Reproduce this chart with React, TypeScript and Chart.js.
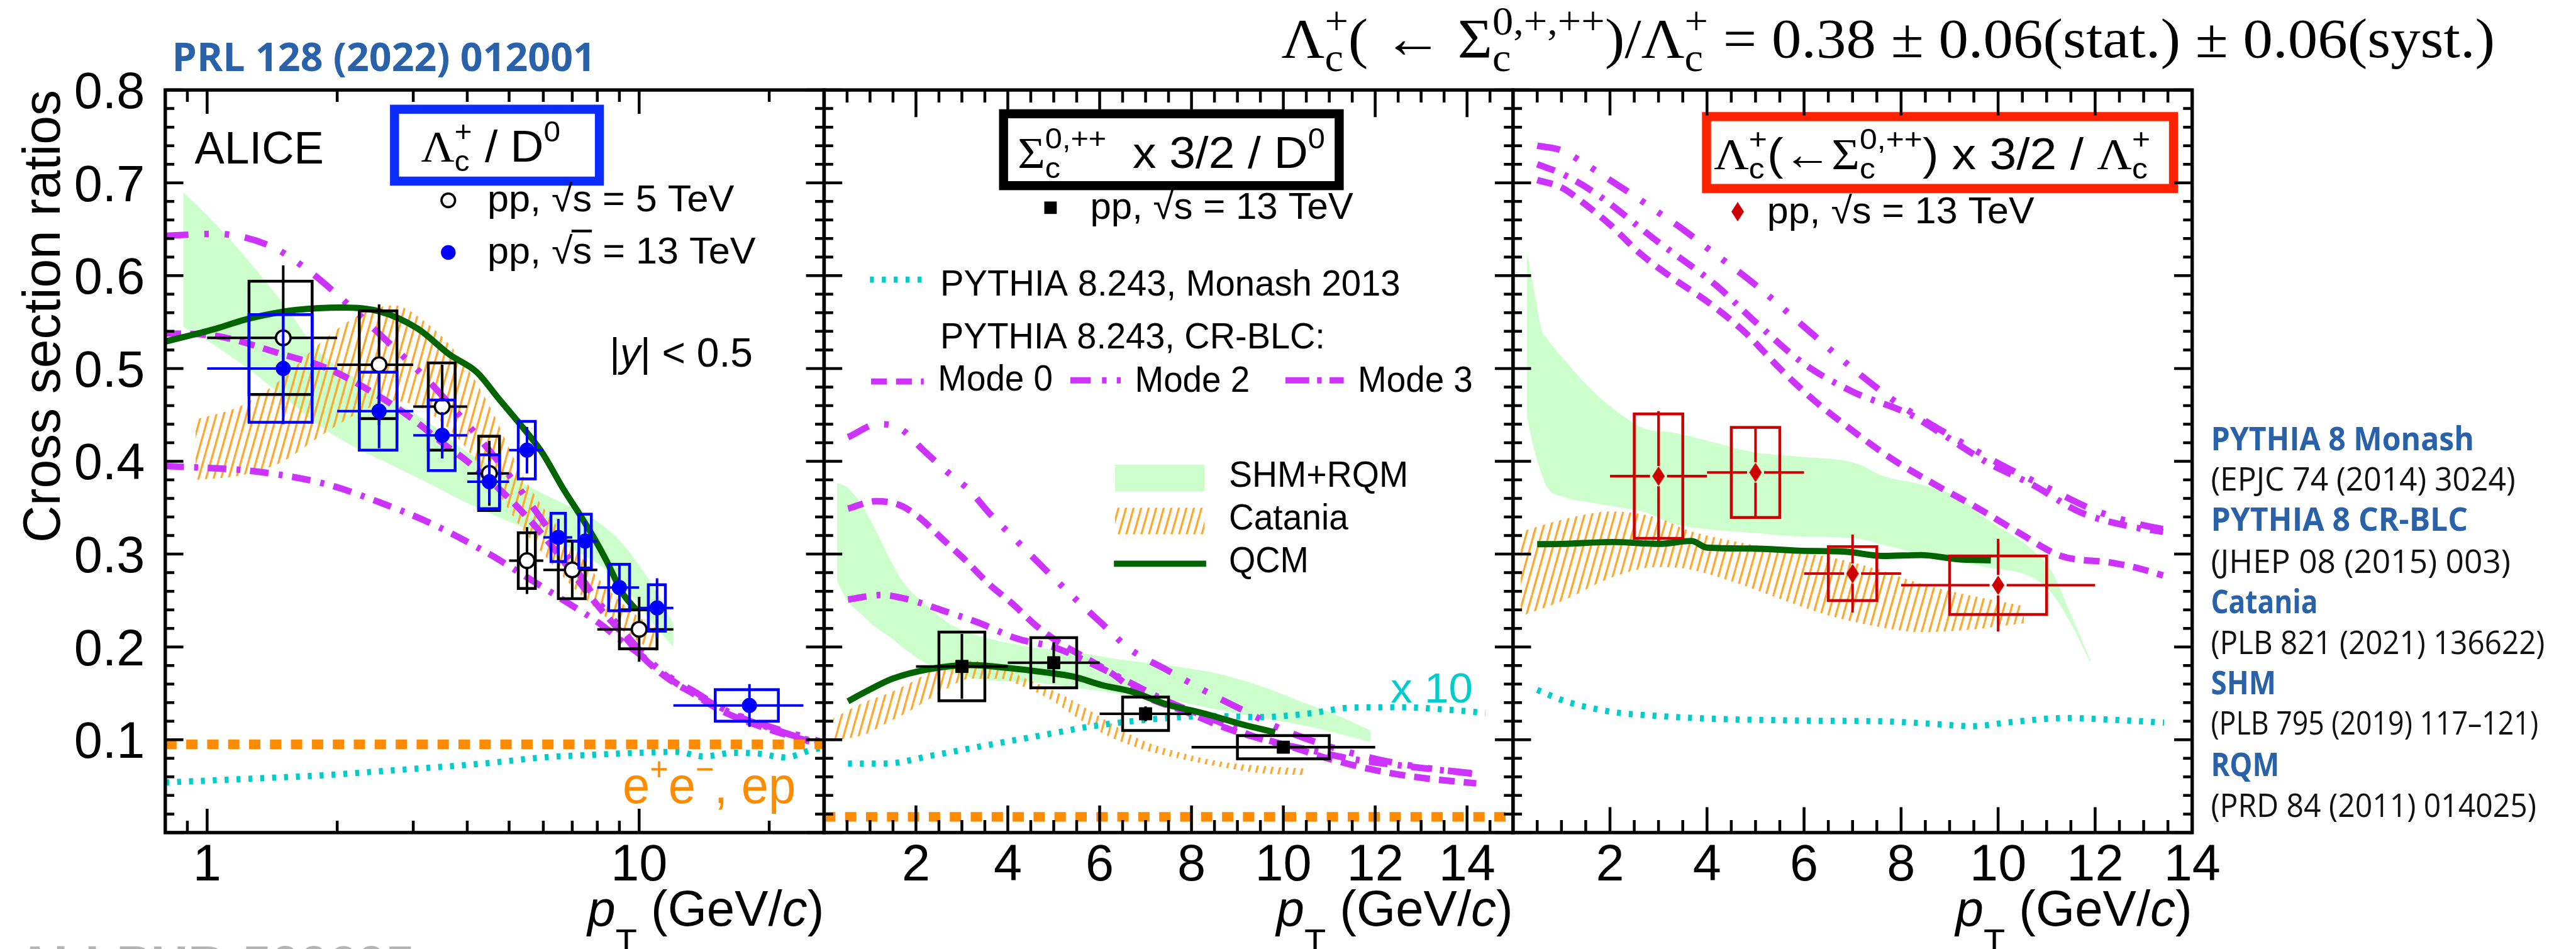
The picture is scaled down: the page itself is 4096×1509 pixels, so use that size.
import React, { useEffect, useRef } from "react";
import { Chart, registerables } from "chart.js";

Chart.register(...registerables);

// Figure is laid out on a 4548 x 1675 design grid and drawn at 0.9 of it.
const S = 0.9;
const W = 4096;
const H = 1509;
const R = (v: number) => v * S;

const FRAME_TOP = 159;
const FRAME_BOTTOM = 1471;
const PANEL_X = [292, 1456, 2673, 3873];

const SANS = '"Liberation Sans", Arial, Helvetica, sans-serif';
const SERIF = '"Liberation Serif", "Times New Roman", serif';
const REF_FONT = '"Open Sans", "Liberation Sans", sans-serif';

const C_MAGENTA = "#cc33ff";
const C_CYAN = "#00cccc";
const C_QCM = "#006400";
const C_SHM = "#ccffcc";
const C_EE = "#ff8c00";
const C_BLUE = "#0000ff";
const C_RED = "#cc0000";
const C_REFBLUE = "#2a62aa";

// ---------- axes ----------
const Y_MIN = 0;
const Y_MAX = 0.8;
const Y_TICK_VALUES = [0.1, 0.2, 0.3, 0.4, 0.5, 0.6, 0.7, 0.8];
const Y_TICK_LABELS = ["0.1", "0.2", "0.3", "0.4", "0.5", "0.6", "0.7", "0.8"];

const P1_X_MIN = 0.8;
const P1_X_MAX = 26.8;
const P1_TICK_VALUES = [1, 10];
const P1_TICK_LABELS = ["1", "10"];
const P1_MINOR_TICKS = [0.9, 2, 3, 4, 5, 6, 7, 8, 9, 20];

const P2_X_MAX = 15;
const P3_X_MAX = 14;
const LIN_TICK_VALUES = [2, 4, 6, 8, 10, 12, 14];
const LIN_TICK_LABELS = ["2", "4", "6", "8", "10", "12", "14"];

// ---------- panel 1: Λc+/D0 ----------
const lc5Lo = [1, 2, 3, 4, 5, 6, 8];
const lc5Hi = [2, 3, 4, 5, 6, 8, 12];
const lc5Val = [0.533, 0.504, 0.459, 0.387, 0.293, 0.283, 0.219];
const lc5Stat = [0.078, 0.065, 0.045, 0.035, 0.036, 0.03, 0.035];
const lc5Syst = [0.061, 0.058, 0.047, 0.04, 0.03, 0.031, 0.021];

const lc13Lo = [1, 2, 3, 4, 5, 6, 7, 8, 10, 12];
const lc13Hi = [2, 3, 4, 5, 6, 7, 8, 10, 12, 24];
const lc13Val = [0.5, 0.454, 0.428, 0.378, 0.412, 0.318, 0.314, 0.264, 0.242, 0.137];
const lc13Stat = [0.06, 0.04, 0.025, 0.023, 0.025, 0.02, 0.022, 0.025, 0.032, 0.023];
const lc13Syst = [0.058, 0.042, 0.038, 0.029, 0.031, 0.026, 0.029, 0.025, 0.025, 0.017];

const shm1Pt = [0.88, 1.0, 1.2, 1.5, 1.8, 2.2, 2.7, 3.3, 4.0, 5.0, 6.0, 7.0, 8.0, 9.0, 10.0, 11.0, 12.0];
const shm1Hi = [0.69, 0.665, 0.625, 0.57, 0.52, 0.49, 0.465, 0.44, 0.41, 0.385, 0.365, 0.35, 0.335, 0.315, 0.288, 0.258, 0.225];
const shm1Lo = [0.545, 0.53, 0.505, 0.47, 0.44, 0.415, 0.395, 0.375, 0.355, 0.335, 0.32, 0.305, 0.29, 0.27, 0.245, 0.22, 0.2];

const cat1Pt = [0.94, 1.2, 1.5, 1.8, 2.2, 2.7, 3.2, 3.8, 4.5, 5.3, 6.0, 7.0, 8.0, 9.0, 10.0, 11.0];
const cat1Hi = [0.445, 0.46, 0.49, 0.525, 0.555, 0.568, 0.55, 0.515, 0.46, 0.39, 0.35, 0.31, 0.275, 0.25, 0.232, 0.22];
const cat1Lo = [0.38, 0.385, 0.4, 0.425, 0.45, 0.465, 0.455, 0.425, 0.38, 0.33, 0.3, 0.265, 0.24, 0.22, 0.205, 0.195];

const qcm1Pt = [0.8, 1.05, 1.22, 1.41, 1.6, 2.05, 2.5, 3.07, 3.64, 4.21, 4.72, 5.3, 5.95, 6.68, 7.3, 7.94, 8.4, 9.15, 9.85];
const qcm1Val = [0.529, 0.543, 0.5525, 0.559, 0.563, 0.5656, 0.5616, 0.543, 0.515, 0.496, 0.468, 0.44, 0.41, 0.37, 0.342, 0.314, 0.293, 0.258, 0.24];

const monash1Pt = [0.8, 1.0, 1.4, 1.9, 2.5, 3.3, 4.5, 6.0, 8.0, 10.0, 12.2, 14.1, 16.5, 18.9, 21.8, 25.0, 26.8];
const monash1Val = [0.054, 0.056, 0.059, 0.062, 0.066, 0.07, 0.075, 0.081, 0.084, 0.086, 0.087, 0.082, 0.086, 0.085, 0.081, 0.089, 0.092];

const mode2p1Pt = [0.8, 1.05, 1.4, 1.7, 2.05, 2.6, 3.2, 4.0, 5.0, 6.0, 7.0, 8.0, 9.0, 10.0, 11.0, 12.0, 13.3, 15.4, 18.9, 25.0, 26.8];
const mode2p1Val = [0.643, 0.645, 0.632, 0.607, 0.575, 0.53, 0.49, 0.44, 0.385, 0.335, 0.29, 0.25, 0.222, 0.197, 0.178, 0.165, 0.153, 0.135, 0.118, 0.101, 0.097];
const mode0p1Pt = [0.8, 1.05, 1.5, 1.9, 2.5, 3.0, 3.5, 4.0, 5.0, 6.0, 7.0, 8.0, 9.0, 10.0, 11.0, 12.0, 13.3, 15.4, 18.9, 25.0, 26.8];
const mode0p1Val = [0.538, 0.535, 0.515, 0.5, 0.47, 0.445, 0.42, 0.4, 0.36, 0.32, 0.28, 0.245, 0.218, 0.193, 0.175, 0.162, 0.15, 0.132, 0.115, 0.098, 0.095];
const mode3p1Pt = [0.8, 1.3, 1.9, 2.5, 3.3, 4.5, 5.5, 6.7, 8.0, 9.2, 10.5, 12.0, 14.0, 17.0, 20.0, 25.0, 26.8];
const mode3p1Val = [0.395, 0.389, 0.375, 0.356, 0.333, 0.3, 0.275, 0.25, 0.227, 0.205, 0.185, 0.163, 0.145, 0.125, 0.113, 0.099, 0.096];

const eeLambdaOverD0 = 0.095;

// ---------- panel 2: Σc x 3/2 / D0 ----------
const sc13Lo = [2, 4, 6, 8];
const sc13Hi = [4, 6, 8, 12];
const sc13Val = [0.179, 0.183, 0.128, 0.092];
const sc13Stat = [0.035, 0.022, 0.008, 0.006];
const sc13Syst = [0.037, 0.027, 0.018, 0.0125];

const shm2Pt = [0.28, 0.5, 0.75, 1.1, 1.45, 1.75, 2.2, 2.8, 3.6, 4.5, 5.5, 6.5, 7.5, 8.5, 9.5, 10.5, 11.1, 11.9];
const shm2Hi = [0.377, 0.372, 0.358, 0.328, 0.293, 0.268, 0.246, 0.223, 0.209, 0.2, 0.194, 0.186, 0.18, 0.172, 0.158, 0.139, 0.128, 0.11];
const shm2Lo = [0.271, 0.25, 0.238, 0.222, 0.21, 0.198, 0.183, 0.172, 0.164, 0.162, 0.156, 0.149, 0.143, 0.133, 0.124, 0.115, 0.108, 0.0975];

const cat2Pt = [0.2, 0.9, 1.4, 1.9, 2.5, 3.2, 3.8, 4.3, 4.9, 5.5, 6.1, 6.9, 7.7, 8.7, 9.5, 10.5];
const cat2Hi = [0.123, 0.141, 0.15, 0.162, 0.178, 0.185, 0.18, 0.168, 0.155, 0.14, 0.122, 0.1, 0.087, 0.076, 0.072, 0.069];
const cat2Lo = [0.099, 0.106, 0.119, 0.132, 0.15, 0.166, 0.166, 0.158, 0.144, 0.124, 0.106, 0.09, 0.08, 0.07, 0.064, 0.062];

const qcm2Pt = [0.52, 0.93, 1.49, 2.26, 3.18, 4.0, 4.82, 5.43, 6.04, 6.66, 7.47, 8.3, 9.1, 9.82];
const qcm2Val = [0.1415, 0.1524, 0.1658, 0.1759, 0.1805, 0.1774, 0.1726, 0.168, 0.159, 0.1524, 0.138, 0.128, 0.1166, 0.108];

const MONASH_SIGMA_SCALE = 10;
const monash2Pt = [0.52, 1.34, 2.36, 3.59, 4.82, 5.84, 7.47, 8.5, 9.5, 10.5, 11.56, 12.6, 13.6, 14.4];
const monash2Val = [0.00744, 0.00744, 0.00831, 0.00945, 0.01055, 0.01146, 0.01234, 0.01256, 0.01244, 0.0128, 0.01348, 0.0135, 0.01323, 0.0129];

const mode2p2Pt = [0.52, 1.18, 1.65, 2.16, 2.67, 3.18, 3.59, 4.1, 4.71, 5.43, 6.04, 6.66, 7.47, 8.3, 9.1, 10.03, 11.05, 12.07, 13.1, 14.3];
const mode2p2Val = [0.426, 0.44, 0.4355, 0.412, 0.389, 0.368, 0.3445, 0.319, 0.2886, 0.2537, 0.2256, 0.1976, 0.175, 0.1524, 0.1323, 0.11, 0.092, 0.0787, 0.0697, 0.063];
const mode0p2Pt = [0.52, 1.13, 1.65, 2.06, 2.57, 3.08, 3.59, 4.1, 4.61, 5.12, 5.63, 6.25, 6.86, 7.88, 8.9, 10.03, 11.05, 12.07, 13.1, 14.2];
const mode0p2Val = [0.349, 0.357, 0.3527, 0.34, 0.3166, 0.2933, 0.2677, 0.2466, 0.2232, 0.2046, 0.19, 0.172, 0.15, 0.13, 0.11, 0.0945, 0.0787, 0.0665, 0.0585, 0.053];
const mode3p2Pt = [0.52, 1.24, 1.85, 2.56, 3.39, 4.2, 5.02, 5.84, 6.66, 7.47, 8.5, 9.5, 10.5, 11.56, 12.6, 14.2];
const mode3p2Val = [0.251, 0.256, 0.251, 0.2396, 0.2256, 0.209, 0.1994, 0.1817, 0.1616, 0.1415, 0.1213, 0.101, 0.0898, 0.0787, 0.072, 0.063];

const eeSigmaOverD0 = 0.017;

// ---------- panel 3: Λc(←Σc) x 3/2 / Λc ----------
const lcs13Lo = [2, 4, 6, 8];
const lcs13Hi = [4, 6, 8, 12];
const lcs13Val = [0.384, 0.388, 0.279, 0.2665];
const lcs13Stat = [0.07, 0.048, 0.042, 0.05];
const lcs13Syst = [0.067, 0.0485, 0.029, 0.0315];

const shm3Pt = [0.29, 0.45, 0.6, 0.69, 1.08, 1.66, 2.24, 2.72, 3.3, 4.17, 4.94, 5.9, 7.06, 7.64, 8.41, 9.18, 9.76, 10.7, 11.1, 11.5, 11.9];
const shm3Hi = [0.626, 0.58, 0.54, 0.533, 0.508, 0.475, 0.45, 0.435, 0.431, 0.42, 0.41, 0.405, 0.398, 0.384, 0.375, 0.361, 0.338, 0.305, 0.282, 0.235, 0.186];
const shm3Lo = [0.447, 0.41, 0.385, 0.373, 0.361, 0.355, 0.35, 0.345, 0.333, 0.326, 0.323, 0.319, 0.317, 0.31, 0.3, 0.292, 0.286, 0.275, 0.258, 0.225, 0.183];

const cat3Pt = [0.16, 1.08, 2.04, 3.0, 3.59, 4.55, 5.6, 6.5, 7.5, 8.41, 9.38, 10.53];
const cat3Hi = [0.324, 0.338, 0.346, 0.339, 0.326, 0.314, 0.304, 0.297, 0.284, 0.268, 0.256, 0.244];
const cat3Lo = [0.233, 0.251, 0.275, 0.286, 0.284, 0.27, 0.25, 0.234, 0.222, 0.216, 0.2185, 0.2256];

const qcm3Pt = [0.5, 1.0, 2.04, 3.01, 3.68, 4.0, 4.94, 5.9, 6.86, 7.64, 8.41, 9.18, 9.85];
const qcm3Val = [0.3107, 0.311, 0.313, 0.311, 0.3142, 0.307, 0.306, 0.3037, 0.3026, 0.298, 0.299, 0.2945, 0.2933];

const monash3Pt = [0.5, 1.08, 2.04, 3.01, 3.98, 5.9, 7.83, 8.8, 9.47, 10.24, 11.4, 12.46, 13.42];
const monash3Val = [0.1537, 0.1415, 0.13, 0.1256, 0.1229, 0.1207, 0.1195, 0.1166, 0.1146, 0.1189, 0.1234, 0.1213, 0.1185];

const mode2p3Pt = [0.5, 1.0, 1.5, 2.0, 2.5, 3.0, 3.5, 4.0, 5.0, 6.0, 7.0, 8.0, 9.0, 10.0, 11.0, 12.0, 13.0, 13.5];
const mode2p3Val = [0.74, 0.735, 0.72, 0.703, 0.686, 0.668, 0.65, 0.63, 0.59, 0.545, 0.5, 0.46, 0.428, 0.398, 0.372, 0.347, 0.331, 0.326];
const mode3p3Pt = [0.5, 1.0, 1.75, 2.9, 4.2, 5.0, 6.0, 7.0, 8.2, 8.8, 9.8, 10.7, 11.7, 12.7, 13.4];
const mode3p3Val = [0.72, 0.71, 0.687, 0.64, 0.589, 0.55, 0.505, 0.475, 0.45, 0.431, 0.398, 0.375, 0.345, 0.33, 0.324];
const mode0p3Pt = [0.5, 1.0, 1.46, 2.0, 2.62, 3.3, 4.06, 4.8, 5.5, 6.2, 7.0, 7.8, 8.7, 9.6, 10.4, 11.3, 12.3, 12.8, 13.4];
const mode0p3Val = [0.703, 0.695, 0.678, 0.655, 0.624, 0.597, 0.57, 0.538, 0.5, 0.466, 0.433, 0.403, 0.375, 0.349, 0.324, 0.298, 0.291, 0.286, 0.277];

// ---------- references ----------
const REF_TITLES = ["PYTHIA 8 Monash", "PYTHIA 8 CR-BLC", "Catania", "SHM", "RQM"];
const REF_CITES = ["(EPJC 74 (2014) 3024)", "(JHEP 08 (2015) 003)", "(PLB 821 (2021) 136622)", "(PLB 795 (2019) 117–121)", "(PRD 84 (2011) 014025)"];

// ---------- line styles (design px) ----------
const DASH_MODE0 = [28, 16];
const DASH_MODE2 = [41, 28, 8, 28, 8, 28];
const DASH_MODE3 = [33, 18, 7, 17];
const DASH_MONASH = [7, 14];
const DASH_EE = [20, 17];
const MODE_WIDTH = 11.5;

// ---------- helpers ----------
type Seg = { t?: string; sup?: string; sub?: string; k?: number; dy?: number; it?: boolean; fam?: string; bar?: boolean };

function fontStr(px: number, fam: string, it?: boolean, bold?: boolean) {
  return `${it ? "italic " : ""}${bold ? "bold " : ""}${px}px ${fam}`;
}

function rich(
  ctx: CanvasRenderingContext2D,
  segs: Seg[],
  x: number,
  y: number,
  size: number,
  o: { fam?: string; color?: string; width?: number; align?: string; bold?: boolean; supDy?: number; subDy?: number; sk?: number } = {}
) {
  const fam0 = o.fam || SANS;
  const sk = o.sk ?? 0.65;
  const supDy = o.supDy ?? -0.45;
  const subDy = o.subDy ?? 0.22;
  const laid: any[] = [];
  let cur = 0;
  for (const g of segs) {
    const fam = g.fam || fam0;
    if (g.t === undefined) {
      ctx.font = fontStr(size * sk, fam, false, o.bold);
      const a = g.sup ? ctx.measureText(g.sup).width : 0;
      const b = g.sub ? ctx.measureText(g.sub).width : 0;
      laid.push({ g, fam, x: cur });
      cur += Math.max(a, b);
    } else {
      const px = size * (g.k ?? 1);
      ctx.font = fontStr(px, fam, g.it, o.bold);
      const w = ctx.measureText(g.t).width;
      laid.push({ g, fam, x: cur, w, px });
      cur += w;
    }
  }
  const sx = o.width ? o.width / cur : 1;
  const left = o.align === "right" ? x - cur * sx : o.align === "center" ? x - (cur * sx) / 2 : x;
  ctx.save();
  ctx.translate(left, y);
  ctx.scale(sx, 1);
  ctx.fillStyle = o.color || "#000";
  ctx.strokeStyle = o.color || "#000";
  ctx.textAlign = "left";
  ctx.textBaseline = "alphabetic";
  for (const it of laid) {
    const g = it.g as Seg;
    if (g.t === undefined) {
      ctx.font = fontStr(size * sk, it.fam, false, o.bold);
      if (g.sup) ctx.fillText(g.sup, it.x, supDy * size);
      if (g.sub) ctx.fillText(g.sub, it.x, subDy * size);
    } else {
      ctx.font = fontStr(it.px, it.fam, g.it, o.bold);
      ctx.fillText(g.t, it.x, (g.dy ?? 0) * size);
      if (g.bar) {
        ctx.lineWidth = 0.07 * size;
        ctx.beginPath();
        ctx.moveTo(it.x - 0.03 * size, -0.86 * size);
        ctx.lineTo(it.x + it.w, -0.86 * size);
        ctx.stroke();
      }
    }
  }
  ctx.restore();
}

const xy = (xs: number[], ys: number[], k = 1) => xs.map((x, i) => ({ x, y: ys[i] * k }));
const centers = (lo: number[], hi: number[]) => lo.map((l, i) => (l + hi[i]) / 2);

function makeHatch(canvas: HTMLCanvasElement): CanvasPattern | string {
  const w = 12;
  const h = 43;
  const tile = document.createElement("canvas");
  tile.width = w;
  tile.height = h;
  const g = tile.getContext("2d");
  if (!g) return "rgba(255,165,40,0.5)";
  g.strokeStyle = "rgb(255,168,48)";
  g.lineWidth = 3.3;
  g.beginPath();
  for (const off of [-w, 0, w]) {
    g.moveTo(off, h);
    g.lineTo(off + w, 0);
  }
  g.stroke();
  const ctx = canvas.getContext("2d");
  return (ctx && ctx.createPattern(tile, "repeat")) || "rgba(255,165,40,0.5)";
}

function makeDiamond(hw: number, hh: number, color: string) {
  const c = document.createElement("canvas");
  c.width = Math.round(2 * hw);
  c.height = Math.round(2 * hh);
  const g = c.getContext("2d");
  if (g) {
    g.fillStyle = color;
    g.beginPath();
    g.moveTo(c.width / 2, 0);
    g.lineTo(c.width, c.height / 2);
    g.lineTo(c.width / 2, c.height);
    g.lineTo(0, c.height / 2);
    g.closePath();
    g.fill();
  }
  return c;
}

function curveDs(data: any[], color: string, width: number, dash: number[], order: number) {
  return {
    type: "line",
    data,
    borderColor: color,
    borderWidth: R(width),
    borderDash: dash.map(R),
    borderCapStyle: "butt",
    pointRadius: 0,
    fill: false,
    cubicInterpolationMode: "monotone",
    order,
    clip: 0,
  };
}

function bandDs(upper: any[], lower: any[], fillStyle: any, order: number) {
  return [
    {
      type: "line",
      data: upper,
      borderColor: "rgba(0,0,0,0)",
      borderWidth: 1,
      backgroundColor: fillStyle,
      fill: "+1",
      pointRadius: 0,
      cubicInterpolationMode: "monotone",
      order,
      clip: 0,
    },
    {
      type: "line",
      data: lower,
      borderColor: "rgba(0,0,0,0)",
      borderWidth: 1,
      fill: false,
      pointRadius: 0,
      cubicInterpolationMode: "monotone",
      order,
      clip: 0,
    },
  ];
}

function markerDs(lo: number[], hi: number[], val: number[], stat: number[], syst: number[], m: any) {
  return {
    type: "line",
    showLine: false,
    data: xy(centers(lo, hi), val),
    pointStyle: m.style,
    pointRadius: m.radius,
    pointBackgroundColor: m.bg,
    pointBorderColor: m.border,
    pointBorderWidth: m.bw,
    order: m.order,
    errInfo: { lo, hi, val, stat, syst, color: m.color, gx: m.gx, gy: m.gy },
  };
}

function drawErrors(chart: any, e: any) {
  const { ctx, chartArea: a } = chart;
  const x = chart.scales.x;
  const y = chart.scales.y;
  ctx.save();
  ctx.beginPath();
  ctx.rect(a.left, a.top, a.right - a.left, a.bottom - a.top);
  ctx.clip();
  ctx.strokeStyle = e.color;
  ctx.lineCap = "butt";
  for (let i = 0; i < e.val.length; i++) {
    const c = (e.lo[i] + e.hi[i]) / 2;
    const hw = (e.hi[i] - e.lo[i]) / 4;
    const xl = x.getPixelForValue(c - hw);
    const xr = x.getPixelForValue(c + hw);
    const yt = y.getPixelForValue(e.val[i] + e.syst[i]);
    const yb = y.getPixelForValue(e.val[i] - e.syst[i]);
    ctx.lineWidth = R(5);
    ctx.strokeRect(xl, yt, xr - xl, yb - yt);
    const xc = x.getPixelForValue(c);
    const yc = y.getPixelForValue(e.val[i]);
    const x0 = x.getPixelForValue(e.lo[i]);
    const x1 = x.getPixelForValue(e.hi[i]);
    const y0 = y.getPixelForValue(e.val[i] + e.stat[i]);
    const y1 = y.getPixelForValue(e.val[i] - e.stat[i]);
    ctx.lineWidth = R(4.5);
    ctx.beginPath();
    ctx.moveTo(x0, yc);
    ctx.lineTo(xc - e.gx, yc);
    ctx.moveTo(xc + e.gx, yc);
    ctx.lineTo(x1, yc);
    ctx.moveTo(xc, y0);
    ctx.lineTo(xc, Math.min(yc - e.gy, y1));
    ctx.moveTo(xc, Math.max(yc + e.gy, y0));
    ctx.lineTo(xc, y1);
    ctx.stroke();
  }
  ctx.restore();
}

type AxisDeco = {
  ticks: { v: number; major: boolean }[];
  majLen: number;
  minLen: number;
  labelValues: number[];
  labelTexts: string[];
  yLabels: boolean;
};

function drawAxes(chart: any, ax: AxisDeco) {
  const { ctx, chartArea: a } = chart;
  const x = chart.scales.x;
  const y = chart.scales.y;
  ctx.save();
  ctx.strokeStyle = "#000";
  ctx.lineCap = "butt";
  ctx.lineWidth = R(5);
  ctx.beginPath();
  for (let i = 0; i <= 40; i++) {
    const py = y.getPixelForValue(i * 0.02);
    const len = R(i % 5 === 0 ? 32 : 16);
    ctx.moveTo(a.left, py);
    ctx.lineTo(a.left + len, py);
    ctx.moveTo(a.right, py);
    ctx.lineTo(a.right - len, py);
  }
  for (const t of ax.ticks) {
    const px = x.getPixelForValue(t.v);
    const len = R(t.major ? ax.majLen : ax.minLen);
    ctx.moveTo(px, a.bottom);
    ctx.lineTo(px, a.bottom - len);
    ctx.moveTo(px, a.top);
    ctx.lineTo(px, a.top + len);
  }
  ctx.stroke();
  ctx.lineWidth = R(6);
  ctx.strokeRect(a.left, a.top, a.right - a.left, a.bottom - a.top);

  ctx.fillStyle = "#000";
  ctx.font = fontStr(R(90), SANS);
  ctx.textBaseline = "alphabetic";
  ctx.textAlign = "center";
  ax.labelValues.forEach((v, i) => {
    ctx.fillText(ax.labelTexts[i], x.getPixelForValue(v), R(1555));
  });
  if (ax.yLabels) {
    ctx.textAlign = "right";
    Y_TICK_VALUES.forEach((v, i) => {
      ctx.fillText(Y_TICK_LABELS[i], a.left - R(36), y.getPixelForValue(v) + 0.358 * R(90));
    });
  }
  ctx.restore();
  // x-axis title, right-aligned to the frame
  rich(
    ctx,
    [{ t: "p", it: true }, { t: "T", k: 0.7, dy: 0.55 }, { t: " (GeV/" }, { t: "c", it: true }, { t: ")" }],
    a.right,
    R(1635),
    R(89),
    { align: "right", width: R(418) }
  );
}

function boxFrame(ctx: CanvasRenderingContext2D, x0: number, y0: number, x1: number, y1: number, color: string) {
  const lw = 16;
  ctx.save();
  ctx.fillStyle = "#fff";
  ctx.fillRect(R(x0), R(y0), R(x1 - x0), R(y1 - y0));
  ctx.strokeStyle = color;
  ctx.lineWidth = R(lw);
  ctx.strokeRect(R(x0 + lw / 2), R(y0 + lw / 2), R(x1 - x0 - lw), R(y1 - y0 - lw));
  ctx.restore();
}

function sampleLine(ctx: CanvasRenderingContext2D, x0: number, x1: number, y: number, color: string, width: number, dash: number[]) {
  ctx.save();
  ctx.strokeStyle = color;
  ctx.lineWidth = R(width);
  ctx.lineCap = "butt";
  ctx.setLineDash(dash.map(R));
  ctx.beginPath();
  ctx.moveTo(R(x0), R(y));
  ctx.lineTo(R(x1), R(y));
  ctx.stroke();
  ctx.restore();
}

function ppText(energy: string, bar: boolean): Seg[] {
  return [{ t: "pp, √" }, { t: "s", bar }, { t: ` = ${energy} TeV` }];
}

function baseOptions(xType: string, xMin: number, xMax: number, left: number, right: number) {
  return {
    animation: false,
    responsive: false,
    maintainAspectRatio: false,
    events: [],
    layout: { padding: { left: R(left), right: W - R(right), top: R(FRAME_TOP), bottom: H - R(FRAME_BOTTOM) } },
    plugins: { legend: { display: false }, tooltip: { enabled: false }, title: { display: false } },
    scales: {
      x: { type: xType, min: xMin, max: xMax, display: false },
      y: { type: "linear", min: Y_MIN, max: Y_MAX, display: false },
    },
    elements: { point: { radius: 0 } },
  };
}

function decoPlugin(id: string, ax: AxisDeco, boxes: (ctx: CanvasRenderingContext2D, chart: any) => void, text: (ctx: CanvasRenderingContext2D, chart: any) => void) {
  return {
    id,
    beforeDatasetDraw(chart: any, args: any) {
      const ds = chart.data.datasets[args.index];
      if (ds && ds.errInfo) drawErrors(chart, ds.errInfo);
    },
    afterDraw(chart: any) {
      const ctx = chart.ctx as CanvasRenderingContext2D;
      boxes(ctx, chart);
      drawAxes(chart, ax);
      text(ctx, chart);
    },
  };
}

function linTicks(max: number) {
  const out: { v: number; major: boolean }[] = [];
  for (let i = 0; i <= max * 2; i++) out.push({ v: i / 2, major: i % 4 === 0 });
  return out;
}

// ---------- panel 1 ----------
function panel1Config(canvas: HTMLCanvasElement) {
  const hatch = makeHatch(canvas);
  const datasets = [
    markerDs(lc13Lo, lc13Hi, lc13Val, lc13Stat, lc13Syst, { style: "circle", radius: R(13), bg: C_BLUE, border: C_BLUE, bw: 1, order: 0, color: C_BLUE, gx: 0, gy: 0 }),
    markerDs(lc5Lo, lc5Hi, lc5Val, lc5Stat, lc5Syst, { style: "circle", radius: R(13), bg: "#fff", border: "#000", bw: R(4), order: 1, color: "#000", gx: R(14), gy: R(14) }),
    curveDs(xy(qcm1Pt, qcm1Val), C_QCM, 11, [], 2),
    curveDs(xy([P1_X_MIN, P1_X_MAX], [eeLambdaOverD0, eeLambdaOverD0]), C_EE, 17, DASH_EE, 3),
    curveDs(xy(mode2p1Pt, mode2p1Val), C_MAGENTA, MODE_WIDTH, DASH_MODE2, 4),
    curveDs(xy(mode0p1Pt, mode0p1Val), C_MAGENTA, MODE_WIDTH, DASH_MODE0, 4),
    curveDs(xy(mode3p1Pt, mode3p1Val), C_MAGENTA, MODE_WIDTH, DASH_MODE3, 4),
    curveDs(xy(monash1Pt, monash1Val), C_CYAN, 11, DASH_MONASH, 5),
    ...bandDs(xy(cat1Pt, cat1Hi), xy(cat1Pt, cat1Lo), hatch, 6),
    ...bandDs(xy(shm1Pt, shm1Hi), xy(shm1Pt, shm1Lo), C_SHM, 7),
  ];
  const ax: AxisDeco = {
    ticks: [...P1_MINOR_TICKS.map((v) => ({ v, major: false })), ...P1_TICK_VALUES.map((v) => ({ v, major: true }))],
    majLen: 42,
    minLen: 21,
    labelValues: P1_TICK_VALUES,
    labelTexts: P1_TICK_LABELS,
    yLabels: true,
  };
  const boxes = (ctx: CanvasRenderingContext2D) => {
    boxFrame(ctx, 689, 185, 1067, 328, "#0a2cff");
  };
  const text = (ctx: CanvasRenderingContext2D) => {
    // page-level labels
    rich(ctx, [{ t: "PRL 128 (2022) 012001" }], R(304), R(126), R(70), { fam: REF_FONT, bold: true, color: C_REFBLUE, width: R(748) });
    rich(
      ctx,
      [
        { t: "Λ" },
        { sup: "+", sub: "c" },
        { t: "( ← " },
        { t: "Σ" },
        { sup: "0,+,++", sub: "c" },
        { t: ")/" },
        { t: "Λ" },
        { sup: "+", sub: "c" },
        { t: " = 0.38 ± 0.06(stat.) ± 0.06(syst.)" },
      ],
      R(2264),
      R(101),
      R(99),
      { fam: SERIF, width: R(2144), sk: 0.7, supDy: -0.4, subDy: 0.25 }
    );
    ctx.save();
    ctx.translate(R(105), R(159));
    ctx.rotate(-Math.PI / 2);
    rich(ctx, [{ t: "Cross section ratios" }], 0, 0, R(92), { align: "right", width: R(800) });
    ctx.restore();
    const titleBase = [795, 938, 1083, 1226.5, 1371];
    const citeBase = [867, 1012, 1155, 1298, 1443];
    const titleW = [465, 454, 189, 115, 121];
    const citeW = [538, 529.5, 590, 578.5, 575];
    REF_TITLES.forEach((t, i) => {
      rich(ctx, [{ t }], R(3906), R(titleBase[i]), R(57), { fam: REF_FONT, bold: true, color: C_REFBLUE, width: R(titleW[i]) });
      rich(ctx, [{ t: REF_CITES[i] }], R(3906), R(citeBase[i]), R(57), { fam: REF_FONT, color: "#111", width: R(citeW[i]) });
    });
    rich(ctx, [{ t: "ALI-PUB-500605" }], R(29), R(1734), R(91), { bold: true, color: "#b4b4b4", width: R(703) });

    // panel labels
    rich(ctx, [{ t: "ALICE" }], R(344), R(289), R(80), { width: R(228) });
    rich(ctx, [{ t: "Λ", fam: SERIF }, { sup: "+", sub: "c" }, { t: " / D" }, { sup: "0" }], R(744), R(285), R(78), { width: R(246) });
    ctx.save();
    ctx.lineWidth = R(4);
    ctx.strokeStyle = "#000";
    ctx.fillStyle = "#fff";
    ctx.beginPath();
    ctx.arc(R(792), R(354), R(12), 0, Math.PI * 2);
    ctx.fill();
    ctx.stroke();
    ctx.fillStyle = C_BLUE;
    ctx.beginPath();
    ctx.arc(R(792), R(446), R(13), 0, Math.PI * 2);
    ctx.fill();
    ctx.restore();
    rich(ctx, ppText("5", false), R(861), R(373), R(66), { width: R(436) });
    rich(ctx, ppText("13", true), R(861), R(465), R(66), { width: R(474) });
    rich(ctx, [{ t: "|" }, { t: "y", it: true }, { t: "| < 0.5" }], R(1077), R(648), R(71), { width: R(253) });
    rich(ctx, [{ t: "e" }, { sup: "+" }, { t: "e" }, { sup: "−" }, { t: ", ep" }], R(1100), R(1419), R(90), { color: C_EE, width: R(306), supDy: -0.45 });
  };
  return {
    type: "line",
    data: { datasets },
    options: baseOptions("logarithmic", P1_X_MIN, P1_X_MAX, PANEL_X[0], PANEL_X[1]),
    plugins: [decoPlugin("deco1", ax, boxes, text)],
  } as any;
}

// ---------- panel 2 ----------
function panel2Config(canvas: HTMLCanvasElement) {
  const hatch = makeHatch(canvas);
  const datasets = [
    markerDs(sc13Lo, sc13Hi, sc13Val, sc13Stat, sc13Syst, { style: "rect", radius: R(15.5), bg: "#000", border: "#000", bw: 1, order: 0, color: "#000", gx: 0, gy: 0 }),
    curveDs(xy(qcm2Pt, qcm2Val), C_QCM, 11, [], 2),
    curveDs(xy([0, P2_X_MAX], [eeSigmaOverD0, eeSigmaOverD0]), C_EE, 17, DASH_EE, 3),
    curveDs(xy(mode2p2Pt, mode2p2Val), C_MAGENTA, MODE_WIDTH, DASH_MODE2, 4),
    curveDs(xy(mode0p2Pt, mode0p2Val), C_MAGENTA, MODE_WIDTH, DASH_MODE0, 4),
    curveDs(xy(mode3p2Pt, mode3p2Val), C_MAGENTA, MODE_WIDTH, DASH_MODE3, 4),
    curveDs(xy(monash2Pt, monash2Val, MONASH_SIGMA_SCALE), C_CYAN, 11, DASH_MONASH, 5),
    ...bandDs(xy(cat2Pt, cat2Hi), xy(cat2Pt, cat2Lo), hatch, 6),
    ...bandDs(xy(shm2Pt, shm2Hi), xy(shm2Pt, shm2Lo), C_SHM, 7),
  ];
  const ax: AxisDeco = {
    ticks: linTicks(P2_X_MAX),
    majLen: 48,
    minLen: 22,
    labelValues: LIN_TICK_VALUES,
    labelTexts: LIN_TICK_LABELS,
    yLabels: false,
  };
  const boxes = (ctx: CanvasRenderingContext2D) => {
    boxFrame(ctx, 1765, 193, 2374, 336, "#000");
  };
  const text = (ctx: CanvasRenderingContext2D) => {
    rich(ctx, [{ t: "Σ", fam: SERIF }, { sup: "0,++", sub: "c" }, { t: "  x 3/2 / D" }, { sup: "0" }], R(1798), R(297), R(78), { width: R(543) });
    ctx.save();
    ctx.fillStyle = "#000";
    ctx.fillRect(R(1845), R(356), R(22), R(22));
    ctx.restore();
    rich(ctx, ppText("13", false), R(1926), R(386.5), R(66), { width: R(465) });
    sampleLine(ctx, 1537, 1632, 494, C_CYAN, 11, DASH_MONASH);
    rich(ctx, [{ t: "PYTHIA 8.243, Monash 2013" }], R(1661), R(522), R(64), { width: R(813) });
    rich(ctx, [{ t: "PYTHIA 8.243, CR-BLC:" }], R(1661), R(615), R(64), { width: R(680) });
    sampleLine(ctx, 1539, 1632, 674, C_MAGENTA, 11, DASH_MODE0);
    rich(ctx, [{ t: "Mode 0" }], R(1657), R(690), R(64), { width: R(203) });
    sampleLine(ctx, 1891, 1980, 672, C_MAGENTA, 11, [36, 20, 8, 18, 8, 20]);
    rich(ctx, [{ t: "Mode 2" }], R(2005), R(692), R(64), { width: R(203) });
    sampleLine(ctx, 2271, 2374, 672, C_MAGENTA, 11, [42, 14, 8, 14]);
    rich(ctx, [{ t: "Mode 3" }], R(2399), R(692), R(64), { width: R(203) });
    ctx.save();
    ctx.fillStyle = C_SHM;
    ctx.fillRect(R(1970), R(821), R(158), R(47));
    ctx.fillStyle = hatch as any;
    ctx.fillRect(R(1970), R(897), R(158), R(47));
    ctx.restore();
    rich(ctx, [{ t: "SHM+RQM" }], R(2171), R(860), R(64), { width: R(317) });
    rich(ctx, [{ t: "Catania" }], R(2171), R(935), R(64), { width: R(211) });
    sampleLine(ctx, 1968, 2131, 996, C_QCM, 11, []);
    rich(ctx, [{ t: "QCM" }], R(2171), R(1011), R(64), { width: R(141) });
    rich(ctx, [{ t: `x ${MONASH_SIGMA_SCALE}` }], R(2457), R(1241), R(74), { color: C_CYAN, width: R(145) });
  };
  return {
    type: "line",
    data: { datasets },
    options: baseOptions("linear", 0, P2_X_MAX, PANEL_X[1], PANEL_X[2]),
    plugins: [decoPlugin("deco2", ax, boxes, text)],
  } as any;
}

// ---------- panel 3 ----------
function panel3Config(canvas: HTMLCanvasElement) {
  const hatch = makeHatch(canvas);
  const diamond = makeDiamond(R(11), R(17), C_RED);
  const datasets = [
    markerDs(lcs13Lo, lcs13Hi, lcs13Val, lcs13Stat, lcs13Syst, { style: diamond, radius: 10, bg: C_RED, border: C_RED, bw: 1, order: 0, color: C_RED, gx: R(15), gy: R(18) }),
    curveDs(xy(qcm3Pt, qcm3Val), C_QCM, 11, [], 2),
    curveDs(xy(mode2p3Pt, mode2p3Val), C_MAGENTA, MODE_WIDTH, DASH_MODE2, 4),
    curveDs(xy(mode3p3Pt, mode3p3Val), C_MAGENTA, MODE_WIDTH, DASH_MODE3, 4),
    curveDs(xy(mode0p3Pt, mode0p3Val), C_MAGENTA, MODE_WIDTH, DASH_MODE0, 4),
    curveDs(xy(monash3Pt, monash3Val), C_CYAN, 11, DASH_MONASH, 5),
    ...bandDs(xy(cat3Pt, cat3Hi), xy(cat3Pt, cat3Lo), hatch, 6),
    ...bandDs(xy(shm3Pt, shm3Hi), xy(shm3Pt, shm3Lo), C_SHM, 7),
  ];
  const ax: AxisDeco = {
    ticks: linTicks(P3_X_MAX),
    majLen: 45,
    minLen: 22,
    labelValues: LIN_TICK_VALUES,
    labelTexts: LIN_TICK_LABELS,
    yLabels: false,
  };
  const boxes = (ctx: CanvasRenderingContext2D) => {
    boxFrame(ctx, 3007, 198, 3848, 341, "#ff2200");
  };
  const text = (ctx: CanvasRenderingContext2D) => {
    rich(
      ctx,
      [
        { t: "Λ", fam: SERIF },
        { sup: "+", sub: "c" },
        { t: "(←" },
        { t: "Σ", fam: SERIF },
        { sup: "0,++", sub: "c" },
        { t: ") x 3/2 / " },
        { t: "Λ", fam: SERIF },
        { sup: "+", sub: "c" },
      ],
      R(3028),
      R(298.5),
      R(78),
      { width: R(771) }
    );
    ctx.drawImage(diamond, R(3070) - diamond.width / 2, R(374) - diamond.height / 2);
    rich(ctx, ppText("13", false), R(3122), R(394), R(66), { width: R(472) });
  };
  return {
    type: "line",
    data: { datasets },
    options: baseOptions("linear", 0, P3_X_MAX, PANEL_X[2], PANEL_X[3]),
    plugins: [decoPlugin("deco3", ax, boxes, text)],
  } as any;
}

export default function App() {
  const c1 = useRef<HTMLCanvasElement | null>(null);
  const c2 = useRef<HTMLCanvasElement | null>(null);
  const c3 = useRef<HTMLCanvasElement | null>(null);

  useEffect(() => {
    const charts: Chart[] = [];
    if (c1.current && c2.current && c3.current) {
      charts.push(new Chart(c1.current, panel1Config(c1.current)));
      charts.push(new Chart(c2.current, panel2Config(c2.current)));
      charts.push(new Chart(c3.current, panel3Config(c3.current)));
    }
    return () => charts.forEach((c) => c.destroy());
  }, []);

  const cs: React.CSSProperties = { position: "absolute", left: 0, top: 0, width: W, height: H };
  return (
    <div style={{ position: "fixed", left: 0, top: 0, width: W, height: H, background: "#fff", overflow: "hidden" }}>
      <canvas ref={c1} width={W} height={H} style={cs} />
      <canvas ref={c2} width={W} height={H} style={cs} />
      <canvas ref={c3} width={W} height={H} style={cs} />
    </div>
  );
}
